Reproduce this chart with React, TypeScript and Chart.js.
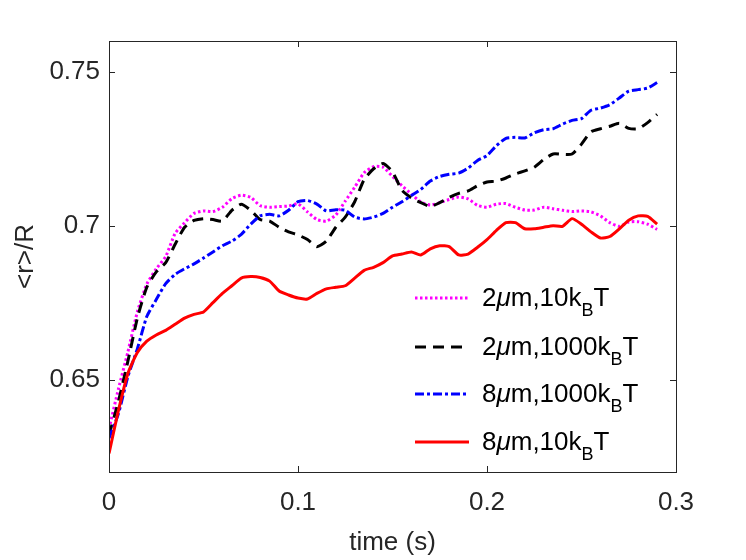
import { useEffect, useRef } from 'react';
import { Chart, registerables } from 'chart.js';

Chart.register(...registerables);

// time axis (s), shared by all four runs
const timeS = [
  0, 0.005, 0.01, 0.015, 0.02, 0.025, 0.03, 0.035, 0.04, 0.045,
  0.05, 0.055, 0.06, 0.065, 0.07, 0.075, 0.08, 0.085, 0.09, 0.095,
  0.1, 0.105, 0.11, 0.115, 0.12, 0.125, 0.13, 0.135, 0.14, 0.145,
  0.15, 0.155, 0.16, 0.165, 0.17, 0.175, 0.18, 0.185, 0.19, 0.195,
  0.2, 0.205, 0.21, 0.215, 0.22, 0.225, 0.23, 0.235, 0.24, 0.245,
  0.25, 0.255, 0.26, 0.265, 0.27, 0.275, 0.28, 0.285, 0.29,
];

// <r>/R for 2um, 10 kBT
const r2um10 = [
  0.634, 0.647, 0.659, 0.672, 0.681, 0.686, 0.690, 0.6975, 0.701, 0.704,
  0.7048, 0.7046, 0.706, 0.7088, 0.7099, 0.7092, 0.7065, 0.706, 0.7062, 0.7064,
  0.7071, 0.7045, 0.702, 0.7015, 0.7035, 0.708, 0.7125, 0.7172, 0.7192, 0.719,
  0.716, 0.713, 0.7103, 0.7077, 0.7067, 0.7075, 0.7085, 0.7093, 0.7087, 0.7066,
  0.706, 0.707, 0.7072, 0.706, 0.7051, 0.7051, 0.706, 0.7055, 0.705, 0.7046,
  0.7048, 0.7045, 0.7032, 0.701, 0.6998, 0.7012, 0.7013, 0.7005, 0.6988,
];

// <r>/R for 2um, 1000 kBT
const r2um1000 = [
  0.632, 0.643, 0.656, 0.670, 0.680, 0.685, 0.688, 0.694, 0.6995, 0.7017,
  0.7023, 0.702, 0.7015, 0.705, 0.707, 0.705, 0.702, 0.7015, 0.6995, 0.698,
  0.697, 0.6955, 0.6932, 0.695, 0.6995, 0.7028, 0.7078, 0.715, 0.7185, 0.7202,
  0.7175, 0.7115, 0.709, 0.7075, 0.7062, 0.7075, 0.7092, 0.7105, 0.7113, 0.713,
  0.7142, 0.7145, 0.7155, 0.7168, 0.7178, 0.719, 0.7215, 0.7233, 0.7232, 0.7233,
  0.7265, 0.7305, 0.7315, 0.7323, 0.7333, 0.7316, 0.7315, 0.7335, 0.7362,
];

// <r>/R for 8um, 1000 kBT
const r8um1000 = [
  0.631, 0.639, 0.651, 0.660, 0.6705, 0.676, 0.6812, 0.6842, 0.686, 0.6876,
  0.6895, 0.6915, 0.6935, 0.695, 0.6972, 0.7005, 0.7032, 0.7037, 0.7032, 0.705,
  0.7078, 0.7082, 0.707, 0.7048, 0.7052, 0.705, 0.7028, 0.7022, 0.7028, 0.704,
  0.706, 0.7078, 0.7098, 0.7118, 0.7145, 0.716, 0.7167, 0.7171, 0.7187, 0.7212,
  0.7228, 0.726, 0.7284, 0.7287, 0.7285, 0.7302, 0.7312, 0.7315, 0.733, 0.7342,
  0.7348, 0.7375, 0.7382, 0.7393, 0.7415, 0.7437, 0.7442, 0.7447, 0.7465,
];

// <r>/R for 8um, 10 kBT
const r8um10 = [
  0.626, 0.640, 0.652, 0.6588, 0.6625, 0.6645, 0.666, 0.668, 0.670, 0.6712,
  0.672, 0.675, 0.678, 0.6805, 0.683, 0.6835, 0.6832, 0.682, 0.6788, 0.6775,
  0.6765, 0.6762, 0.678, 0.6795, 0.680, 0.6805, 0.683, 0.6855, 0.6865, 0.688,
  0.6902, 0.6908, 0.6915, 0.6905, 0.6925, 0.6935, 0.6932, 0.6905, 0.6908, 0.693,
  0.6955, 0.6985, 0.701, 0.701, 0.699, 0.699, 0.6995, 0.700, 0.6998, 0.7023,
  0.7005, 0.698, 0.696, 0.6965, 0.699, 0.7018, 0.7032, 0.703, 0.7005,
];

const xTicks = [0, 0.1, 0.2, 0.3];
const yTicks = [0.65, 0.7, 0.75];

const AXIS = '#262626';
const FONT = '"Liberation Sans", Arial, sans-serif';

const series = [
  { size: '2', energy: '10', values: r2um10, color: '#ff00ff', dash: [2.5, 2.5] },
  { size: '2', energy: '1000', values: r2um1000, color: '#000000', dash: [11, 7] },
  { size: '8', energy: '1000', values: r8um1000, color: '#0000ff', dash: [9, 3, 3, 3] },
  { size: '8', energy: '10', values: r8um10, color: '#ff0000', dash: [] as number[] },
];

// box round the plot area with inward ticks on all four sides
const framePlugin = {
  id: 'frame',
  afterDatasetsDraw(chart: any) {
    const { ctx, chartArea, scales } = chart;
    const { left, right, top, bottom } = chartArea;
    ctx.save();
    ctx.strokeStyle = AXIS;
    ctx.lineWidth = 1;
    ctx.strokeRect(left + 0.5, top + 0.5, right - left, bottom - top);
    ctx.beginPath();
    scales.x.ticks.forEach((t: any) => {
      const px = Math.round(scales.x.getPixelForValue(t.value)) + 0.5;
      ctx.moveTo(px, bottom);
      ctx.lineTo(px, bottom - 6);
      ctx.moveTo(px, top);
      ctx.lineTo(px, top + 6);
    });
    scales.y.ticks.forEach((t: any) => {
      const py = Math.round(scales.y.getPixelForValue(t.value)) + 0.5;
      ctx.moveTo(left, py);
      ctx.lineTo(left + 6, py);
      ctx.moveTo(right, py);
      ctx.lineTo(right - 6, py);
    });
    ctx.stroke();
    ctx.restore();
  },
};

function LegendRow({ s, top }: { s: (typeof series)[number]; top: number }) {
  return (
    <div style={{ position: 'absolute', left: 415, top, height: 30, display: 'flex', alignItems: 'center' }}>
      <svg width={54} height={30} style={{ display: 'block' }}>
        <line
          x1={0}
          y1={15}
          x2={54}
          y2={15}
          stroke={s.color}
          strokeWidth={3}
          strokeDasharray={s.dash.length ? s.dash.join(' ') : undefined}
        />
      </svg>
      <span style={{ marginLeft: 13, fontSize: 26, lineHeight: '30px', color: '#000', whiteSpace: 'nowrap' }}>
        {s.size}
        <span style={{ fontStyle: 'italic' }}>μ</span>m,{s.energy}k
        <span style={{ fontSize: 18, position: 'relative', top: 10 }}>B</span>T
      </span>
    </div>
  );
}

export default function App() {
  const canvasRef = useRef<HTMLCanvasElement>(null);

  useEffect(() => {
    document.body.style.margin = '0';
    if (!canvasRef.current) return;

    const chart = new Chart(canvasRef.current, {
      type: 'line',
      data: {
        datasets: series.map((s, i) => ({
          label: `${s.size}μm,${s.energy}kBT`,
          data: timeS.map((t, k) => ({ x: t, y: s.values[k] })),
          borderColor: s.color,
          borderWidth: 3,
          borderDash: s.dash,
          pointRadius: 0,
          tension: 0.2,
          fill: false,
          order: series.length - i,
        })),
      },
      options: {
        animation: false,
        responsive: false,
        maintainAspectRatio: false,
        layout: { padding: { top: 41, right: 70, left: 0, bottom: 0 } },
        plugins: { legend: { display: false }, tooltip: { enabled: false } },
        scales: {
          x: {
            type: 'linear',
            min: 0,
            max: 0.3,
            afterBuildTicks: (scale: any) => {
              scale.ticks = xTicks.map((v) => ({ value: v }));
            },
            afterFit: (scale: any) => {
              scale.height = 88;
            },
            grid: { display: false, drawTicks: false },
            border: { display: false },
            ticks: {
              padding: 15,
              color: AXIS,
              font: { family: FONT, size: 26 },
              maxRotation: 0,
              callback: (v: any) => String(v),
            },
            title: {
              display: true,
              text: 'time (s)',
              color: AXIS,
              font: { family: FONT, size: 26 },
              padding: { top: 0, bottom: 2 },
            },
          },
          y: {
            type: 'linear',
            min: 0.62,
            max: 0.76,
            afterBuildTicks: (scale: any) => {
              scale.ticks = yTicks.map((v) => ({ value: v }));
            },
            afterFit: (scale: any) => {
              scale.width = 109;
            },
            grid: { display: false, drawTicks: false },
            border: { display: false },
            ticks: {
              padding: 9,
              color: AXIS,
              font: { family: FONT, size: 26 },
              callback: (v: any) => String(v),
            },
            title: {
              display: true,
              text: '<r>/R',
              color: AXIS,
              font: { family: FONT, size: 26 },
              padding: { top: 10, bottom: 0 },
            },
          },
        },
      },
      plugins: [framePlugin],
    });

    return () => chart.destroy();
  }, []);

  const rowTops = [283, 332, 379, 427];

  return (
    <div style={{ position: 'relative', width: 746, height: 560, background: '#fff', fontFamily: FONT }}>
      <canvas ref={canvasRef} width={746} height={560} style={{ display: 'block' }} />
      {series.map((s, i) => (
        <LegendRow key={i} s={s} top={rowTops[i]} />
      ))}
    </div>
  );
}
